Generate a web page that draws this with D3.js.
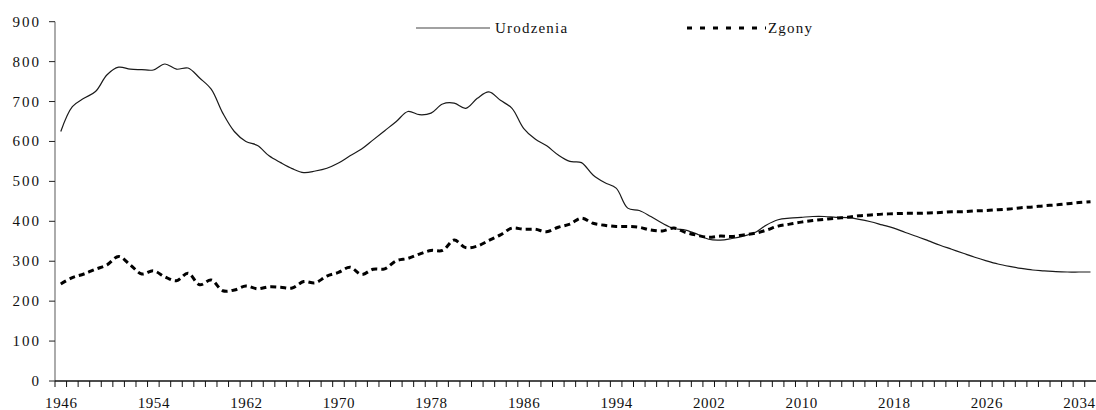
<!DOCTYPE html>
<html lang="pl">
    <head>
        <meta charset="utf-8">
        <title>Urodzenia i zgony</title>
        <script type="text/javascript" src="https://cdn.jsdelivr.net/npm/d3@7"></script>
        <style type="text/css">
          body { margin: 0; background: white; }
          .tick-label {
            font-family: "Liberation Serif", "Times New Roman", serif;
            font-size: 15px;
            fill: #111;
          }
          .legend text {
            font-family: "Liberation Serif", "Times New Roman", serif;
            font-size: 15px;
            letter-spacing: 1.2px;
            fill: #111;
          }
        </style>
    </head>
    <body>
        <script type="text/javascript">
            // Data (thousands)
            var years = d3.range(1946, 2036);

            var births = [625, 687, 708, 725, 767, 786, 781, 780, 779, 794,
                          781, 784, 759, 731, 671, 625, 600, 590, 564, 547,
                          532, 522, 526, 533, 546, 564, 581, 604, 627, 650,
                          675, 667, 671, 694, 696, 683, 708, 724, 703, 683,
                          633, 606, 589, 566, 550, 547, 516, 497, 483, 433,
                          427, 412, 395, 382, 378, 368, 355, 353, 357, 363,
                          372, 391, 404, 408, 410, 412, 412, 410, 409, 405,
                          399, 391, 383, 372, 362, 351, 340, 330, 320, 310,
                          301, 293, 287, 282, 278, 276, 274, 273, 273, 273];

            var deaths = [243, 259, 268, 280, 291, 312, 291, 268, 276, 261,
                          251, 270, 241, 253, 226, 228, 238, 231, 236, 235,
                          233, 249, 246, 263, 272, 285, 267, 280, 281, 301,
                          307, 318, 327, 327, 353, 334, 338, 352, 366, 383,
                          380, 380, 374, 385, 393, 408, 395, 390, 387, 387,
                          385, 378, 376, 383, 372, 365, 360, 363, 362, 366,
                          370, 378, 388, 393, 398, 402, 405, 408, 410, 414,
                          416, 418, 419, 420, 420, 421, 422, 424, 424, 426,
                          427, 429, 431, 434, 436, 439, 441, 444, 447, 449];

            var yTicks = [0, 100, 200, 300, 400, 500, 600, 700, 800, 900];
            var xLabels = [1946, 1954, 1962, 1970, 1978, 1986, 1994, 2002, 2010, 2018, 2026, 2034];
            var seriesNames = ["Urodzenia", "Zgony"];

            var w = 1096;
            var h = 410;

            var margin = {left: 55, top: 21.7, bottom: 381, right: 1096.3};

            var svg = d3.select("body").append("svg")
            .attr("width", w)
            .attr("height", h);

            // Scales
            var x = d3.scaleBand()
            .domain(years)
            .range([margin.left, margin.right])
            .padding(0);

            var y = d3.scaleLinear()
            .domain([0, 900])
            .range([margin.bottom, margin.top]);

            var cx = function(yr) { return x(yr) + x.bandwidth() / 2; };

            // Y axis
            svg.append("line")
            .attr("x1", margin.left).attr("x2", margin.left)
            .attr("y1", y(900)).attr("y2", y(0))
            .style("stroke", "#7f7f7f")
            .style("stroke-width", 1.3);

            svg.append("g")
            .selectAll("line")
            .data(yTicks)
            .enter()
            .append("line")
            .attr("x1", margin.left - 6).attr("x2", margin.left)
            .attr("y1", function(d) { return y(d); })
            .attr("y2", function(d) { return y(d); })
            .style("stroke", "#222")
            .style("stroke-width", 1);

            svg.append("g")
            .selectAll("text")
            .data(yTicks)
            .enter()
            .append("text")
            .attr("class", "tick-label")
            .attr("x", 41)
            .attr("y", function(d) { return y(d) + 5; })
            .attr("text-anchor", "end")
            .style("letter-spacing", "2px")
            .text(function(d) { return d; });

            // X axis
            svg.append("line")
            .attr("x1", margin.left).attr("x2", w)
            .attr("y1", y(0)).attr("y2", y(0))
            .style("stroke", "#111")
            .style("stroke-width", 1.3);

            svg.append("g")
            .selectAll("line")
            .data(years)
            .enter()
            .append("line")
            .attr("x1", function(d) { return x(d); })
            .attr("x2", function(d) { return x(d); })
            .attr("y1", y(0)).attr("y2", y(0) + 6)
            .style("stroke", "#111")
            .style("stroke-width", 1);

            svg.append("g")
            .selectAll("text")
            .data(xLabels)
            .enter()
            .append("text")
            .attr("class", "tick-label")
            .attr("x", function(d) { return cx(d) + 0.5; })
            .attr("y", 408)
            .attr("text-anchor", "middle")
            .style("letter-spacing", "0.6px")
            .text(function(d) { return d; });

            // Lines
            var line = d3.line()
            .x(function(d, i) { return cx(years[i]); })
            .y(function(d) { return y(d); })
            .curve(d3.curveCatmullRom.alpha(0.5));

            svg.append("path")
            .datum(births)
            .attr("d", line)
            .style("fill", "none")
            .style("stroke", "#1a1a1a")
            .style("stroke-width", 1.2);

            svg.append("path")
            .datum(deaths)
            .attr("d", line)
            .style("fill", "none")
            .style("stroke", "#000")
            .style("stroke-width", 3)
            .style("stroke-dasharray", "6,4");

            // Legend
            var legend = svg.append("g").attr("class", "legend");

            legend.append("line")
            .attr("x1", 416).attr("x2", 490)
            .attr("y1", 28).attr("y2", 28)
            .style("stroke", "#444")
            .style("stroke-width", 1.2);

            legend.append("text")
            .attr("x", 495).attr("y", 33)
            .text(seriesNames[0]);

            legend.append("line")
            .attr("x1", 687).attr("x2", 766)
            .attr("y1", 28).attr("y2", 28)
            .style("stroke", "#000")
            .style("stroke-width", 3)
            .style("stroke-dasharray", "5,8");

            legend.append("text")
            .attr("x", 768).attr("y", 33)
            .text(seriesNames[1]);

        </script>
    </body>
</html>
